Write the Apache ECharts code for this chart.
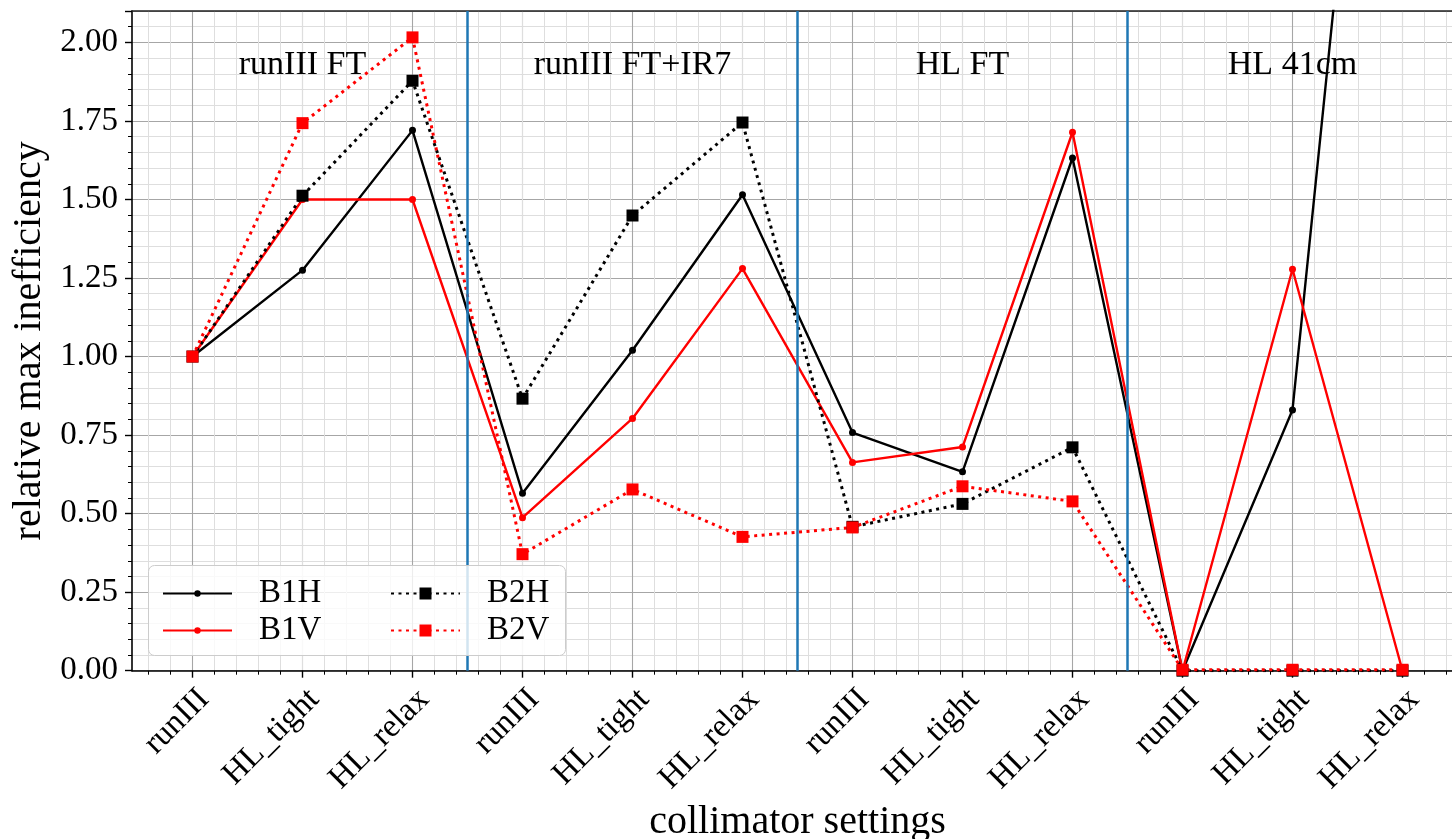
<!DOCTYPE html>
<html>
<head>
<meta charset="utf-8">
<script src="https://cdn.jsdelivr.net/npm/echarts@6/dist/echarts.min.js"></script>
<style>
html,body{margin:0;padding:0;background:#fff;}
#chart{width:1452px;height:839px;}
</style>
</head>
<body>
<div id="chart"></div>
<script>
// ---- data ----
const categories = ['runIII','HL_tight','HL_relax','runIII','HL_tight','HL_relax','runIII','HL_tight','HL_relax','runIII','HL_tight','HL_relax'];
const B1H = [1.00, 1.275, 1.72, 0.565, 1.02, 1.515, 0.758, 0.633, 1.632, 0.0, 0.83, 4.26];
const B1V = [1.00, 1.50, 1.50, 0.487, 0.803, 1.28, 0.663, 0.712, 1.714, 0.0, 1.278, 0.0];
const B2H = [1.00, 1.512, 1.878, 0.866, 1.449, 1.745, 0.458, 0.531, 0.711, 0.0, 0.0, 0.0];
const B2V = [1.00, 1.743, 2.016, 0.371, 0.577, 0.426, 0.456, 0.587, 0.539, 0.003, 0.003, 0.003];
const sectionNames = ['runIII FT', 'runIII FT+IR7', 'HL FT', 'HL 41cm'];
const sectionCenters = [1, 4, 7, 10];
const sectionLabelY = 1.927;
const separators = [2.5, 5.5, 8.5];

const FONT = 'Liberation Serif, DejaVu Serif, serif';
const positions = categories.map((c, i) => i);
const toXY = arr => arr.map((v, i) => [i, v]);

const chart = echarts.init(document.getElementById('chart'), null, {renderer: 'canvas'});

const option = {
  animation: false,
  backgroundColor: '#ffffff',
  grid: {left: 132, top: 11, width: 1331, height: 659.7, containLabel: false, outerBoundsMode: 'none'},
  xAxis: [{
    type: 'value', min: -0.55, max: 11.55, minInterval: 2, maxInterval: 2,
    position: 'bottom',
    axisLine: {show: true, onZero: false, lineStyle: {color: '#000', width: 1.6}},
    axisTick: {show: true, customValues: positions, length: 7, lineStyle: {color: '#000', width: 1.4}},
    minorTick: {show: true, splitNumber: 10, length: 4, lineStyle: {color: '#000', width: 1}},
    axisLabel: {
      customValues: positions,
      formatter: v => categories[Math.round(v)],
      rotate: 45, align: 'right', verticalAlign: 'top', margin: 12,
      fontSize: 33, fontFamily: FONT, color: '#000'
    },
    splitLine: {show: true, lineStyle: {color: '#a6a6a6', width: 1.1}},
    minorSplitLine: {show: true, lineStyle: {color: '#dedede', width: 1}},
    name: 'collimator settings', nameLocation: 'middle', nameGap: 129,
    nameTextStyle: {fontSize: 40, fontFamily: FONT, color: '#000'}
  }, {
    type: 'value', min: -0.55, max: 11.55, position: 'top',
    axisLine: {show: true, onZero: false, lineStyle: {color: '#222', width: 1.6}},
    axisTick: {show: false}, axisLabel: {show: false}, splitLine: {show: false}
  }],
  yAxis: [{
    type: 'value', min: 0, max: 2.1, interval: 0.25,
    axisLine: {show: true, onZero: false, lineStyle: {color: '#000', width: 1.6}},
    axisTick: {show: true, length: 7, lineStyle: {color: '#000', width: 1.4}},
    minorTick: {show: true, splitNumber: 5, length: 4, lineStyle: {color: '#000', width: 1}},
    axisLabel: {
      formatter: v => (v > 2.05 ? '' : v.toFixed(2)),
      margin: 14, fontSize: 33, fontFamily: FONT, color: '#000'
    },
    splitLine: {show: true, lineStyle: {color: '#a6a6a6', width: 1.1}},
    minorSplitLine: {show: true, lineStyle: {color: '#dedede', width: 1}},
    name: 'relative max inefficiency', nameLocation: 'middle', nameGap: 82,
    nameTextStyle: {fontSize: 40, fontFamily: FONT, color: '#000'}
  }],
  legend: [{
    data: ['B1H', 'B1V'], orient: 'vertical', left: 162, top: 577, padding: 0,
    itemWidth: 69, itemHeight: 8, itemGap: 4, z: 20,
    textStyle: {fontSize: 33, fontFamily: FONT, color: '#000', lineHeight: 30, padding: [0, 0, 0, 22]}
  }, {
    data: ['B2H', 'B2V'], orient: 'vertical', left: 390, top: 577, padding: 0,
    itemWidth: 69, itemHeight: 15, itemGap: 4, z: 20,
    textStyle: {fontSize: 33, fontFamily: FONT, color: '#000', lineHeight: 30, padding: [0, 0, 0, 22]}
  }],
  graphic: [{
    type: 'rect', left: 148, top: 565, z: 15,
    shape: {width: 417, height: 90, r: 6},
    style: {fill: 'rgba(255,255,255,0.8)', stroke: '#cccccc', lineWidth: 1}
  }],
  series: [{
    name: 'B1H', type: 'line', data: toXY(B1H), color: '#000000',
    lineStyle: {width: 2.4, color: '#000000'}, symbol: 'circle', symbolSize: 7,
    itemStyle: {color: '#000000'}, z: 3,
    markLine: {
      silent: true, symbol: ['none', 'none'], label: {show: false},
      lineStyle: {color: '#1f77b4', width: 2.5, type: 'solid'},
      data: separators.map(x => ({xAxis: x}))
    }
  }, {
    name: 'B1V', type: 'line', data: toXY(B1V), color: '#ff0000',
    lineStyle: {width: 2.4, color: '#ff0000'}, symbol: 'circle', symbolSize: 7,
    itemStyle: {color: '#ff0000'}, z: 3
  }, {
    name: 'B2H', type: 'line', data: toXY(B2H), color: '#000000',
    lineStyle: {width: 3, color: '#000000', type: [3, 4.5]}, symbol: 'rect', symbolSize: 12,
    itemStyle: {color: '#000000'}, z: 3
  }, {
    name: 'B2V', type: 'line', data: toXY(B2V), color: '#ff0000',
    lineStyle: {width: 3, color: '#ff0000', type: [3, 4.5]}, symbol: 'rect', symbolSize: 12,
    itemStyle: {color: '#ff0000'}, z: 3
  }, {
    name: 'sections', type: 'scatter', symbolSize: 0, silent: true,
    data: sectionNames.map((n, i) => ({name: n, value: [sectionCenters[i], sectionLabelY]})),
    label: {show: true, position: 'inside', formatter: p => p.name, fontSize: 34, fontFamily: FONT,
      color: '#000000', textBorderWidth: 0, textBorderColor: 'transparent', opacity: 1}
  }]
};
chart.setOption(option);
</script>
</body>
</html>
